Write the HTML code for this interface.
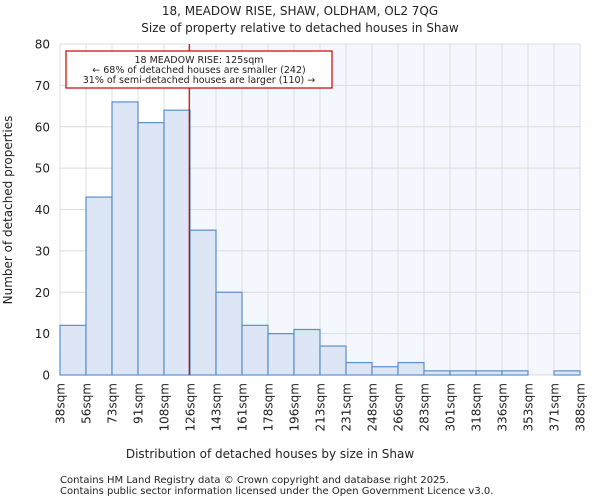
<!DOCTYPE html>
<html><head><meta charset="utf-8"><style>
body{margin:0;background:#fff;font-family:"DejaVu Sans","Liberation Sans",sans-serif}
svg text{font-family:"DejaVu Sans","Liberation Sans",sans-serif;fill:#222}
</style></head><body>
<svg id="c" width="600" height="500" xmlns="http://www.w3.org/2000/svg"></svg>
<script>
const categories=["38sqm","56sqm","73sqm","91sqm","108sqm","126sqm","143sqm","161sqm","178sqm","196sqm","213sqm","231sqm","248sqm","266sqm","283sqm","301sqm","318sqm","336sqm","353sqm","371sqm","388sqm"];
const counts=[12,43,66,61,64,35,20,12,10,11,7,3,2,3,1,1,1,1,0,1];
const yTicks=[0,10,20,30,40,50,60,70,80];
const markerValue=125;
const binStart=38, binEnd=388;
const L=60,R=580,T=44,B=375,yMax=80;
const svg=document.getElementById('c');
const NS='http://www.w3.org/2000/svg';
function x(i){return L+i*(R-L)/counts.length;}
function xv(v){return L+(v-binStart)/(binEnd-binStart)*(R-L);}
function y(v){return B-v/yMax*(B-T);}
function mk(tag,a,txt){const e=document.createElementNS(NS,tag);for(const k in a)e.setAttribute(k,a[k]);if(txt!=null)e.textContent=txt;svg.appendChild(e);return e;}
const mx=xv(markerValue);
let e=mk('rect',{x:mx,y:T,width:R-mx,height:B-T,fill:'#f4f7fd'});


for(let i=0;i<=counts.length;i++){e=mk('line',{x1:x(i),x2:x(i),y1:T,y2:B,stroke:'#dcdcdc'});

}
yTicks.forEach(t=>{e=mk('line',{x1:L,x2:R,y1:y(t),y2:y(t),stroke:'#dcdcdc'});


e=mk('text',{x:L-10,y:y(t)+4.5,'text-anchor':'end','font-size':12},t);

});
counts.forEach((c,i)=>{if(c<=0)return;e=mk('rect',{x:x(i),y:y(c),width:x(i+1)-x(i),height:B-y(c),fill:'#dce6f4',stroke:'#5b8fd0','stroke-width':1.2});

});
categories.forEach((c,i)=>{const px=x(i);e=mk('text',{x:0,y:0,'text-anchor':'end','font-size':12,transform:`translate(${px+4.5},${B+8}) rotate(-90)`},c);

});
e=mk('line',{x1:mx,x2:mx,y1:T,y2:B,stroke:'#cc0000','stroke-width':1.2});


e=mk('rect',{x:66,y:51,width:266,height:37,fill:'#fff',stroke:'#cc0000','stroke-width':1.2});


[["18 MEADOW RISE: 125sqm",62],["← 68% of detached houses are smaller (242)",72],["31% of semi-detached houses are larger (110) →",82]].forEach(a=>{e=mk('text',{x:199,y:a[1]+1,'text-anchor':'middle','font-size':9.5},a[0]);

});
e=mk('text',{x:300,y:15,'text-anchor':'middle','font-size':12},'18, MEADOW RISE, SHAW, OLDHAM, OL2 7QG');


e=mk('text',{x:300,y:32,'text-anchor':'middle','font-size':12},'Size of property relative to detached houses in Shaw');


e=mk('text',{x:270,y:458,'text-anchor':'middle','font-size':12},'Distribution of detached houses by size in Shaw');


e=mk('text',{x:0,y:0,'text-anchor':'middle','font-size':12,transform:'translate(12,210) rotate(-90)'},'Number of detached properties');


e=mk('text',{x:60,y:483,'font-size':10,fill:'#444'},'Contains HM Land Registry data © Crown copyright and database right 2025.');


e=mk('text',{x:60,y:494,'font-size':10,fill:'#444'},'Contains public sector information licensed under the Open Government Licence v3.0.');


</script>
</body></html>
